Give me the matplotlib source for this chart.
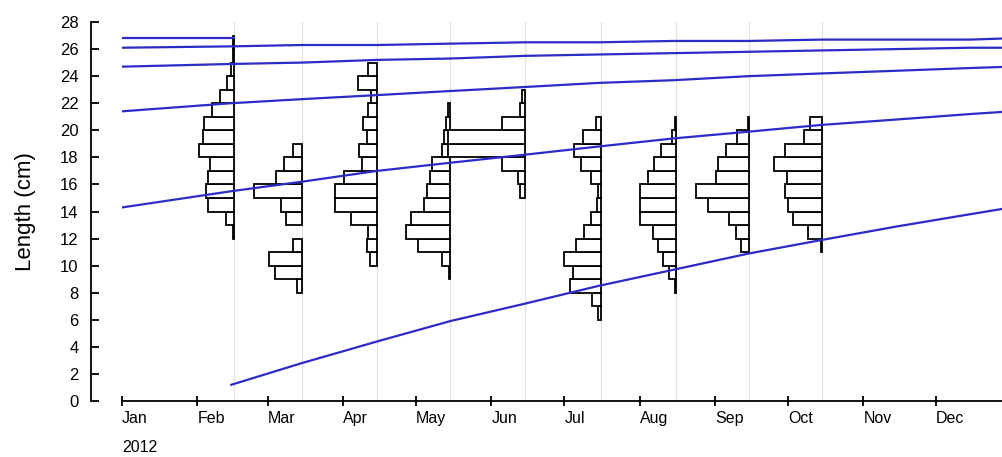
import matplotlib
matplotlib.use('agg')
import matplotlib.pyplot as plt
import numpy as np

plt.rcParams['font.family'] = ['Liberation Sans', 'DejaVu Sans']

######## data ########
months      = ['Jan', 'Feb', 'Mar', 'Apr', 'May', 'Jun', 'Jul', 'Aug', 'Sep', 'Oct', 'Nov', 'Dec']
month_start = [0, 31, 60, 91, 121, 152, 182, 213, 244, 274, 305, 335]   # day of year 2012

# growth curves (length in cm), read at mid-month
curve_days = [0, 45, 74, 105, 135, 166, 196, 227, 258, 288, 319, 349, 366]
cohort_0 = [1.2, 2.8, 4.4, 5.9, 7.2, 8.5, 9.7, 10.9, 11.9, 12.9, 13.8, 14.3]   # starts day 45
cohort_1 = [14.3, 15.5, 16.2, 17.0, 17.6, 18.2, 18.8, 19.4, 19.9, 20.4, 20.8, 21.2, 21.4]
cohort_2 = [21.4, 22.0, 22.3, 22.6, 22.9, 23.2, 23.5, 23.7, 24.0, 24.2, 24.4, 24.6, 24.7]
cohort_3 = [24.7, 24.9, 25.0, 25.2, 25.3, 25.5, 25.6, 25.7, 25.8, 25.9, 26.0, 26.1, 26.1]
cohort_4 = [26.1, 26.2, 26.3, 26.3, 26.4, 26.5, 26.5, 26.6, 26.6, 26.7, 26.7, 26.7, 26.8]
cohort_5_days = [0, 46]
cohort_5 = [26.8, 26.8]   # Jan 1 -> Feb sample only

# length frequency samples (1 cm classes), sample day and lowest class
sample_days = [46, 74, 105, 135, 166, 197, 228, 258, 288]
low_class   = [12, 8, 10, 9, 15, 6, 8, 11, 11]
feb = [1, 7.5, 26, 27.5, 26, 24, 35, 31, 30, 22, 14, 7, 3, 1, 1]
mar = [5, 27, 33, 8.5, 0, 16, 20.5, 48, 25.7, 18, 8.5]
apr = [6.7, 10, 9, 25.7, 42, 42, 33, 15, 18, 10, 14, 9, 5.7, 19, 9]
may = [1, 7.7, 32, 44, 39, 26, 22.7, 20, 18.3, 7.7, 6, 4.3, 2]
jun = [5.7, 7.7, 23, 77, 77, 23, 5, 3]
jul = [3, 9, 31, 28, 37, 25, 17, 10, 4, 3, 10, 20, 27, 18, 5]
aug = [1.5, 6.7, 13, 18, 23, 35.7, 35.7, 35.7, 28, 21.7, 15, 4, 1.5]
sep = [8.3, 13.3, 20, 40.7, 52.7, 33, 30.7, 23, 11.7, 1]
octo = [1, 14, 29, 34, 36.7, 34.7, 48, 36.7, 18, 12.3]
samples = [feb, mar, apr, may, jun, jul, aug, sep, octo]

freq_scale = 1 / 2.43   # days of x axis per frequency unit
line_col = '#2b2bc8'

fig = plt.figure(figsize=(10.03, 4.57), dpi=100)
ax = fig.add_axes([122 / 1003, 56 / 457, 881 / 1003, 379 / 457])

for d in sample_days:
    ax.axvline(d, color='#e4e1d6', lw=0.9, zorder=0)

for d, low, freq in zip(sample_days, low_class, samples):
    for i, f in enumerate(freq):
        if f <= 0:
            continue
        w = f * freq_scale
        ax.barh(low + i, w, left=d - w, height=1, align='edge',
                facecolor='white', edgecolor='black', lw=1.3, zorder=2)

ax.plot(curve_days[1:], cohort_0, color=line_col, lw=1.6, zorder=3)
ax.plot(curve_days, cohort_1, color=line_col, lw=1.6, zorder=3)
ax.plot(curve_days, cohort_2, color=line_col, lw=1.6, zorder=3)
ax.plot(curve_days, cohort_3, color=line_col, lw=1.6, zorder=3)
ax.plot(curve_days, cohort_4, color=line_col, lw=1.6, zorder=3)
ax.plot(cohort_5_days, cohort_5, color=line_col, lw=1.6, zorder=3)

ax.set_xlim(0, 362.5)
ax.set_ylim(0, 28)
ax.set_yticks(np.arange(0, 29, 2))
ax.set_xticks(month_start)
ax.set_xticklabels(months, ha='left')

for s in ['top', 'right']:
    ax.spines[s].set_visible(False)
ax.spines['left'].set_position(('outward', 31 * 0.72))
ax.spines['left'].set_linewidth(1.3)
ax.spines['bottom'].set_linewidth(1.3)
ax.tick_params(axis='y', direction='in', length=6, width=1.3, pad=9, labelsize=12)
ax.tick_params(axis='x', direction='inout', length=7, width=1.3, pad=4, labelsize=11.5)
ax.set_ylabel('Length (cm)', fontsize=16, labelpad=17)
fig.text(122 / 1003, 1 - 447 / 457, '2012', fontsize=11.5, ha='left', va='center')

fig.savefig('out.png', dpi=100)
